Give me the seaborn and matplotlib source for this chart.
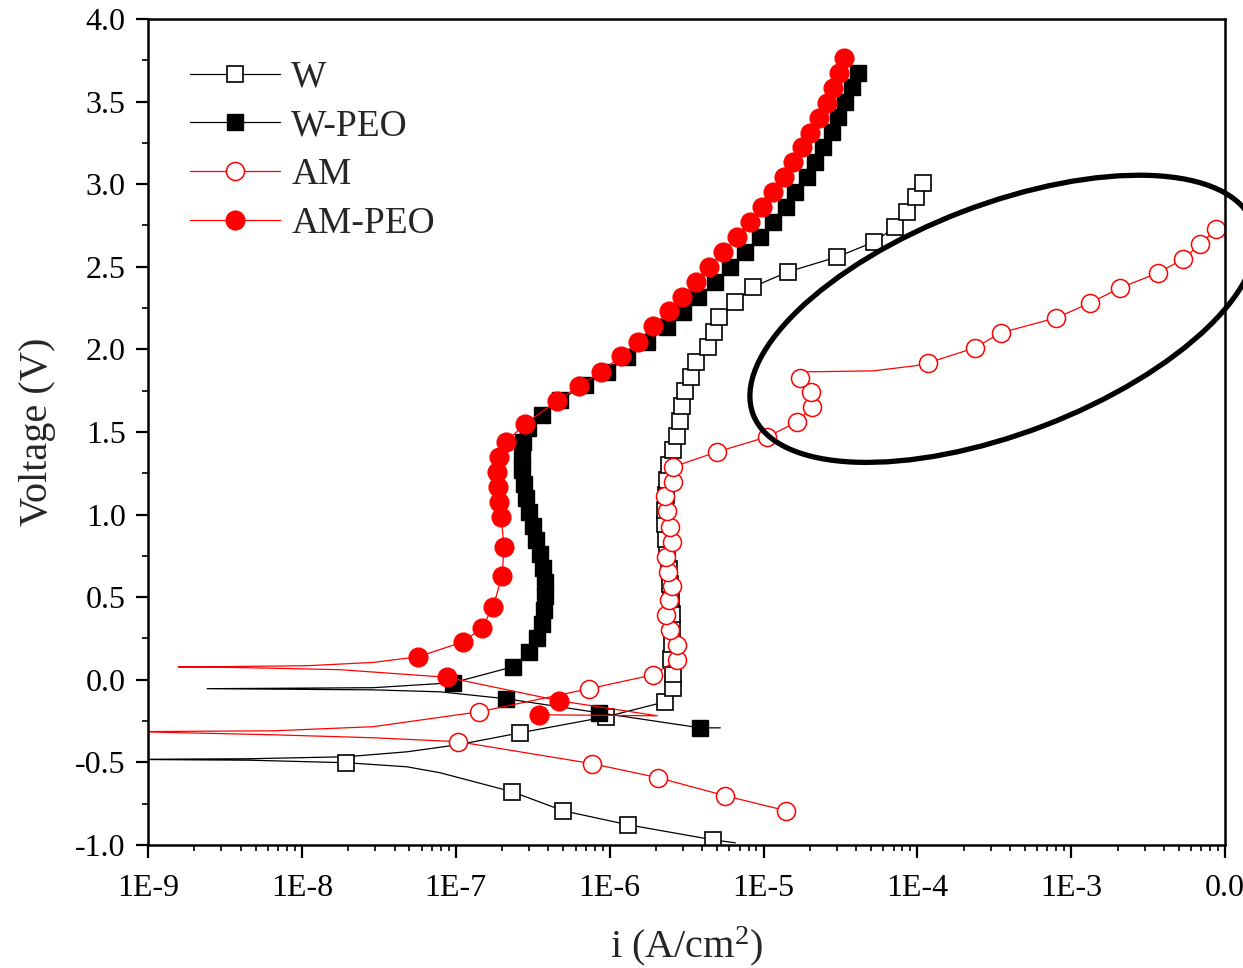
import matplotlib
matplotlib.use("Agg")
import matplotlib.pyplot as plt
import matplotlib.transforms as mtransforms
from matplotlib.patches import Ellipse
from matplotlib.lines import Line2D
from matplotlib.ticker import FixedLocator, FixedFormatter, LogLocator, NullFormatter, MultipleLocator
import numpy as np
import seaborn as sns

# ---------------- data (current density A/cm2, potential V) ----------------
series_names = ["W", "W-PEO", "AM", "AM-PEO"]

W_i = [6.56e-6, 4.72e-6, 1.32e-6, 4.99e-7, 2.33e-7, 7.92e-8, 4.83e-8, 1.94e-8, 4.6e-9, 7.0e-10,
       4.6e-9, 1.94e-8, 4.83e-8, 1.04e-7,
       2.62e-7, 9.5e-7, 2.30e-6, 2.59e-6, 2.59e-6, 2.51e-6, 2.55e-6, 2.55e-6, 2.55e-6, 2.51e-6,
       2.48e-6, 2.44e-6, 2.37e-6, 2.33e-6, 2.30e-6, 2.30e-6, 2.33e-6, 2.37e-6, 2.44e-6, 2.59e-6,
       2.75e-6, 2.88e-6, 2.96e-6, 3.10e-6, 3.39e-6, 3.65e-6, 4.38e-6, 4.79e-6, 5.16e-6, 6.55e-6,
       8.57e-6, 1.45e-5, 3.02e-5, 5.25e-5, 7.19e-5, 8.61e-5, 9.85e-5, 1.08e-4]
W_v = [-0.987, -0.969, -0.878, -0.793, -0.678, -0.563, -0.527, -0.502, -0.487, -0.482,
       -0.478, -0.466, -0.436, -0.393,
       -0.321, -0.224, -0.133, -0.048, 0.036, 0.127, 0.218, 0.309, 0.400, 0.490,
       0.581, 0.672, 0.763, 0.853, 0.944, 1.029, 1.120, 1.211, 1.301, 1.392,
       1.477, 1.568, 1.659, 1.749, 1.834, 1.925, 2.016, 2.107, 2.197, 2.288,
       2.379, 2.470, 2.560, 2.651, 2.742, 2.833, 2.924, 3.009]
W_mark = [0, 1, 1, 1, 1, 0, 0, 1, 0, 0,
          0, 0, 0, 0] + [1] * 38

WPEO_i = [5.24e-6, 3.88e-6, 8.56e-7, 2.13e-7, 7.92e-8, 2.90e-8, 2.42e-9, 2.90e-8, 9.6e-8,
          2.36e-7, 3.00e-7, 3.38e-7, 3.65e-7, 3.76e-7, 3.81e-7, 3.81e-7, 3.70e-7, 3.54e-7, 3.33e-7,
          3.19e-7, 3.00e-7, 2.87e-7, 2.79e-7, 2.70e-7, 2.70e-7, 2.74e-7, 2.96e-7, 3.65e-7, 4.77e-7,
          6.94e-7, 9.64e-7, 1.30e-6, 1.76e-6, 2.37e-6, 3.01e-6, 3.77e-6, 4.86e-6, 6.09e-6, 7.62e-6,
          9.53e-6, 1.16e-5, 1.39e-5, 1.61e-5, 1.93e-5, 2.17e-5, 2.45e-5, 2.80e-5, 3.06e-5, 3.40e-5,
          3.78e-5, 4.13e-5]
WPEO_v = [-0.291, -0.291, -0.200, -0.115, -0.073, -0.061, -0.054, -0.048, -0.018,
          0.079, 0.169, 0.254, 0.339, 0.424, 0.508, 0.593, 0.678, 0.763, 0.847,
          0.932, 1.017, 1.102, 1.186, 1.271, 1.356, 1.441, 1.525, 1.604, 1.695,
          1.786, 1.864, 1.955, 2.046, 2.137, 2.228, 2.318, 2.409, 2.500, 2.591,
          2.682, 2.772, 2.863, 2.954, 3.045, 3.136, 3.226, 3.317, 3.408, 3.499,
          3.590, 3.674]
WPEO_mark = [0, 1, 1, 1, 0, 0, 0, 0, 1] + [1] * 42

AM_i = [1.41e-5, 5.64e-6, 2.07e-6, 7.71e-7, 1.04e-7, 2.90e-8, 6.50e-9, 8.0e-10, 6.50e-9, 2.90e-8,
        1.42e-7, 7.37e-7, 1.92e-6, 2.75e-6, 2.75e-6, 2.48e-6, 2.33e-6, 2.44e-6, 2.55e-6, 2.40e-6,
        2.33e-6, 2.55e-6, 2.48e-6, 2.37e-6, 2.30e-6, 2.59e-6, 2.59e-6, 5.01e-6, 1.06e-5, 1.66e-5,
        2.08e-5, 2.05e-5, 1.73e-5, 1.90e-5, 5.18e-5, 9.71e-5, 1.18e-4, 2.38e-4, 3.47e-4, 8.01e-4,
        1.33e-3, 2.09e-3, 3.69e-3, 5.36e-3, 6.92e-3, 8.79e-3]
AM_v = [-0.793, -0.702, -0.593, -0.508, -0.375, -0.351, -0.333, -0.314, -0.309, -0.284,
        -0.194, -0.054, 0.030, 0.121, 0.212, 0.303, 0.393, 0.484, 0.569, 0.654,
        0.745, 0.835, 0.926, 1.023, 1.114, 1.199, 1.289, 1.380, 1.471, 1.562,
        1.653, 1.743, 1.828, 1.864, 1.870, 1.901, 1.919, 2.010, 2.100, 2.191,
        2.282, 2.373, 2.464, 2.548, 2.639, 2.730]
AM_mark = [1, 1, 1, 1, 1, 0, 0, 0, 0, 0] + [1] * 23 + [0, 0, 0] + [1] * 10

AMPEO_i = [3.48e-7, 2.04e-6, 4.70e-7, 8.79e-8, 1.77e-8, 3.96e-9, 1.57e-9, 1.08e-8, 2.90e-8,
           5.69e-8, 1.12e-7, 1.48e-7, 1.75e-7, 2.00e-7, 2.06e-7, 1.97e-7, 1.91e-7, 1.89e-7, 1.86e-7,
           1.91e-7, 2.13e-7, 2.83e-7, 4.56e-7, 6.34e-7, 8.81e-7, 1.19e-6, 1.53e-6, 1.92e-6, 2.44e-6,
           2.96e-6, 3.66e-6, 4.44e-6, 5.48e-6, 6.75e-6, 8.20e-6, 9.82e-6, 1.16e-5, 1.35e-5, 1.56e-5,
           1.79e-5, 2.01e-5, 2.31e-5, 2.60e-5, 2.84e-5, 3.11e-5, 3.35e-5]
AMPEO_v = [-0.212, -0.218, -0.127, 0.015, 0.061, 0.074, 0.077, 0.085, 0.105,
           0.139, 0.230, 0.315, 0.442, 0.630, 0.805, 0.987, 1.077, 1.168, 1.259,
           1.350, 1.441, 1.550, 1.689, 1.780, 1.864, 1.961, 2.046, 2.143, 2.234,
           2.318, 2.409, 2.500, 2.591, 2.682, 2.772, 2.863, 2.954, 3.045, 3.136,
           3.226, 3.311, 3.402, 3.493, 3.584, 3.674, 3.765]
AMPEO_mark = [1, 0, 1, 1, 0, 0, 0, 0, 0] + [1] * 37

x_tick_values = [1e-9, 1e-8, 1e-7, 1e-6, 1e-5, 1e-4, 1e-3, 1e-2]
x_tick_labels = ["1E-9", "1E-8", "1E-7", "1E-6", "1E-5", "1E-4", "1E-3", "0.0"]
y_tick_values = [-1.0, -0.5, 0.0, 0.5, 1.0, 1.5, 2.0, 2.5, 3.0, 3.5, 4.0]
y_tick_labels = ["-1.0", "-0.5", "0.0", "0.5", "1.0", "1.5", "2.0", "2.5", "3.0", "3.5", "4.0"]

# highlighted region (ellipse centre in data units)
ellipse_center = (3.6e-4, 2.185)

# ---------------- styling ----------------
sns.set_style("ticks")
plt.rcParams["font.family"] = ["Liberation Serif", "DejaVu Serif"]
plt.rcParams["mathtext.fontset"] = "custom"
plt.rcParams["mathtext.rm"] = "Liberation Serif"
plt.rcParams["mathtext.it"] = "Liberation Serif:italic"
plt.rcParams["axes.unicode_minus"] = False

fig = plt.figure(figsize=(12.43, 9.68), dpi=100)
ax = fig.add_axes([0.1191, 0.1271, 0.8665, 0.8533])
ax.set_xscale("log")

styles = {
    "W": dict(color="black", marker="s", mfc="white", mec="black", ms=11.5, mew=1.2),
    "W-PEO": dict(color="black", marker="s", mfc="black", mec="black", ms=11.5, mew=1.0),
    "AM": dict(color="red", marker="o", mfc="white", mec="red", ms=13, mew=1.1),
    "AM-PEO": dict(color="red", marker="o", mfc="red", mec="red", ms=13.5, mew=1.0),
}
data = {
    "W": (W_i, W_v, W_mark),
    "W-PEO": (WPEO_i, WPEO_v, WPEO_mark),
    "AM": (AM_i, AM_v, AM_mark),
    "AM-PEO": (AMPEO_i, AMPEO_v, AMPEO_mark),
}

for name in series_names:
    xi, yv, mk = data[name]
    idx = [k for k, m in enumerate(mk) if m]
    st = styles[name]
    sns.lineplot(x=xi, y=yv, sort=False, estimator=None, errorbar=None, ax=ax,
                 color=st["color"], lw=0.9, marker=st["marker"], markevery=idx,
                 ms=st["ms"], mfc=st["mfc"], mec=st["mec"], mew=st["mew"], legend=False)

ax.set_xlim(1e-9, 1e-2)
ax.set_ylim(-1.0, 4.0)

ax.xaxis.set_major_locator(FixedLocator(x_tick_values))
ax.xaxis.set_major_formatter(FixedFormatter(x_tick_labels))
ax.xaxis.set_minor_locator(LogLocator(base=10, subs=np.arange(2, 10), numticks=100))
ax.xaxis.set_minor_formatter(NullFormatter())
ax.yaxis.set_major_locator(FixedLocator(y_tick_values))
ax.yaxis.set_major_formatter(FixedFormatter(y_tick_labels))
ax.yaxis.set_minor_locator(MultipleLocator(0.25))

for sp in ax.spines.values():
    sp.set_linewidth(1.8)
    sp.set_color("black")
ax.tick_params(which="major", direction="out", length=9, width=1.6, labelsize=23,
               top=False, right=False, colors="black", pad=7)
ax.tick_params(which="minor", direction="out", length=4.5, width=1.4, top=False, right=False)
ax.tick_params(axis="x", which="major", pad=12)

ax.set_xlabel("i (A/cm$^{\\mathrm{2}}$)", fontsize=29, labelpad=15)
ax.set_ylabel("Voltage (V)", fontsize=29, labelpad=14)

# annotation ellipse (size in inches, centred on a data point)
trans = fig.dpi_scale_trans + mtransforms.ScaledTranslation(ellipse_center[0], ellipse_center[1], ax.transData)
ax.add_patch(Ellipse((0, 0), width=5.35, height=2.29, angle=21, transform=trans,
                     fill=False, lw=3.8, ec="black", clip_on=False, zorder=5))

handles = [Line2D([], [], color=styles[n]["color"], lw=0.9, marker=styles[n]["marker"],
                  ms=styles[n]["ms"], mfc=styles[n]["mfc"], mec=styles[n]["mec"],
                  mew=styles[n]["mew"]) for n in series_names]
ax.legend(handles, series_names, loc="upper left", bbox_to_anchor=(0.039, 0.950),
          frameon=False, fontsize=27, handlelength=2.4, handletextpad=0.3,
          labelspacing=0.38, borderpad=0, borderaxespad=0, numpoints=1)

fig.savefig("out.png", dpi=100)
